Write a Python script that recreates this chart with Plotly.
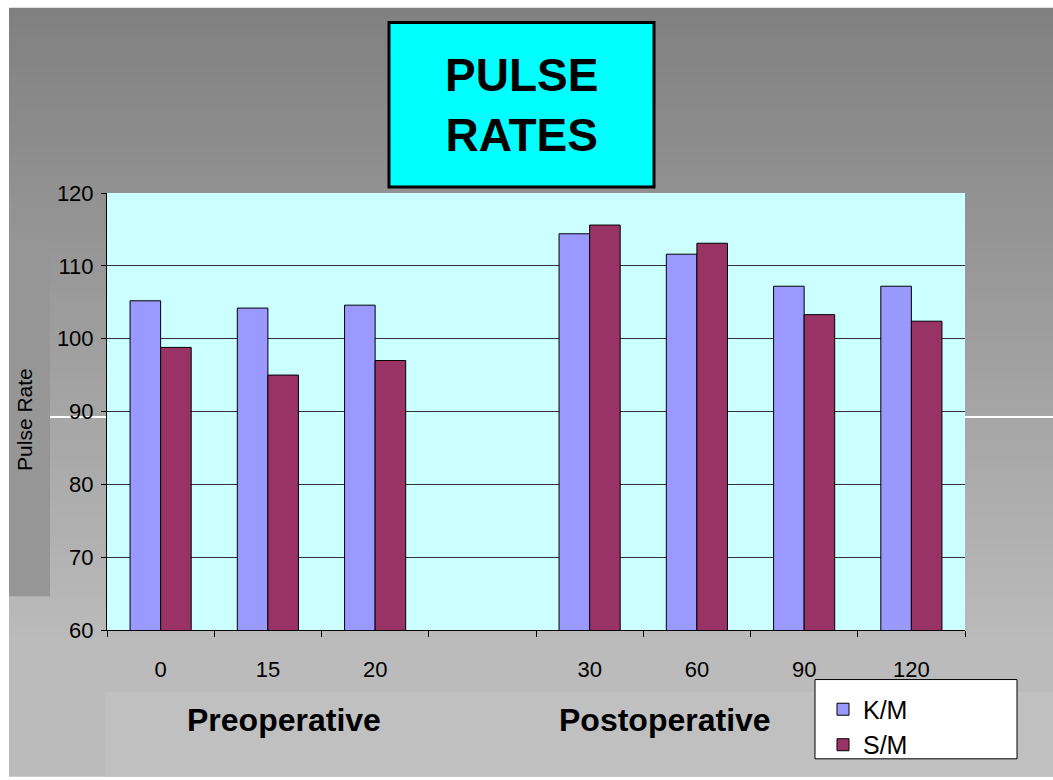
import plotly.graph_objects as go

categories = ["0", "15", "20", " ", "30", "60", "90", "120"]
km_values = [105.2, 104.2, 104.6, None, 114.4, 111.6, 107.2, 107.2]
sm_values = [98.8, 95.0, 97.0, None, 115.6, 113.1, 103.3, 102.4]
y_ticks = [60, 70, 80, 90, 100, 110, 120]

W, H = 1053, 780
L, R, T, B = 107, 965, 193, 634

def px(x):
    return (x - L) / (R - L)

def py(y):
    return (B - y) / (B - T)

fig = go.Figure()
fig.add_trace(go.Bar(x=categories, y=km_values, name="K/M",
                     marker=dict(color="#9999FF", line=dict(color="#000000", width=1))))
fig.add_trace(go.Bar(x=categories, y=sm_values, name="S/M",
                     marker=dict(color="#993366", line=dict(color="#000000", width=1))))

shapes = []
# gradient background
top_y, bot_y = 6, 640
c0, c1 = 128, 186
n = 64
for i in range(n):
    y0 = top_y + (bot_y - top_y) * i / n
    y1 = top_y + (bot_y - top_y) * (i + 1) / n + 1
    c = int(round(c0 + (c1 - c0) * (i + 0.5) / n))
    shapes.append(dict(type="rect", xref="paper", yref="paper", layer="below",
                       x0=px(9), x1=px(W + 2), y0=py(y0), y1=py(y1),
                       fillcolor=f"rgb({c},{c},{c})", line=dict(width=0)))
shapes.append(dict(type="rect", xref="paper", yref="paper", layer="below",
                   x0=px(9), x1=px(W + 2), y0=py(bot_y - 1), y1=py(H + 2),
                   fillcolor="rgb(187,187,187)", line=dict(width=0)))
shapes.append(dict(type="rect", xref="paper", yref="paper", layer="below",
                   x0=px(105), x1=px(W + 2), y0=py(696), y1=py(H + 2),
                   fillcolor="rgb(192,192,192)", line=dict(width=0)))
# white line artifact
shapes.append(dict(type="line", xref="paper", yref="paper", layer="below",
                   x0=px(9), x1=px(W + 2), y0=py(419), y1=py(419),
                   line=dict(color="white", width=2)))
# plot area background
shapes.append(dict(type="rect", xref="paper", yref="paper", layer="below",
                   x0=0, x1=1, y0=0, y1=1,
                   fillcolor="#CCFFFF", line=dict(width=0)))
# y title box
shapes.append(dict(type="rect", xref="paper", yref="paper", layer="below",
                   x0=px(9), x1=px(50), y0=py(240), y1=py(600),
                   fillcolor="rgb(150,150,150)", line=dict(width=0)))
# title box
shapes.append(dict(type="rect", xref="paper", yref="paper", layer="above",
                   x0=px(389), x1=px(654), y0=py(21), y1=py(187),
                   fillcolor="#00FFFF", line=dict(color="black", width=3)))
# legend box
shapes.append(dict(type="rect", xref="paper", yref="paper", layer="above",
                   x0=px(815), x1=px(1017), y0=py(684), y1=py(764),
                   fillcolor="white", line=dict(color="black", width=1)))

annotations = [
    dict(text="<b>PULSE<br>RATES</b>", xref="paper", yref="paper",
         x=px(521), y=py(104), xanchor="center", yanchor="middle", showarrow=False,
         font=dict(family="Arial", size=46, color="black")),
    dict(text="Pulse Rate", xref="paper", yref="paper", x=px(25), y=py(422),
         xanchor="center", yanchor="middle", textangle=-90, showarrow=False,
         font=dict(family="Arial", size=21, color="black")),
    dict(text="<b>Preoperative</b>", xref="paper", yref="paper", x=px(284), y=py(725),
         xanchor="center", yanchor="middle", showarrow=False,
         font=dict(family="Arial", size=32, color="black")),
    dict(text="<b>Postoperative</b>", xref="paper", yref="paper", x=px(665), y=py(725),
         xanchor="center", yanchor="middle", showarrow=False,
         font=dict(family="Arial", size=32, color="black")),
]

fig.update_layout(
    width=W, height=H,
    margin=dict(l=L, r=W - R, t=T, b=H - B, pad=0),
    paper_bgcolor="white",
    plot_bgcolor="#CCFFFF",
    barmode="group", bargap=0.43, bargroupgap=0,
    font=dict(family="Arial", color="black"),
    showlegend=True,
    legend=dict(x=px(823), y=py(691), xanchor="left", yanchor="top",
                bgcolor="rgba(0,0,0,0)", borderwidth=0,
                font=dict(family="Arial", size=25, color="black"),
                itemwidth=30, tracegroupgap=0),
    shapes=shapes,
    annotations=annotations,
)
fig.update_xaxes(type="category", categoryorder="array", categoryarray=categories,
                 tickson="boundaries", ticks="outside", ticklen=6, tickcolor="black",
                 showline=True, linecolor="black", linewidth=1, showgrid=False,
                 tickfont=dict(family="Arial", size=22, color="black"),
                 ticklabelstandoff=20, fixedrange=True)
fig.update_yaxes(range=[60, 120], tickvals=y_ticks, ticks="outside", ticklen=5,
                 tickcolor="black", showline=True, linecolor="black", linewidth=1,
                 showgrid=True, gridcolor="#333333", gridwidth=1, zeroline=False,
                 tickfont=dict(family="Arial", size=22, color="black"),
                 ticklabelstandoff=3, fixedrange=True)

fig.write_html("out.html", config={"displayModeBar": False},
               post_script="document.body.style.margin='0px';document.body.style.overflow='hidden';")
